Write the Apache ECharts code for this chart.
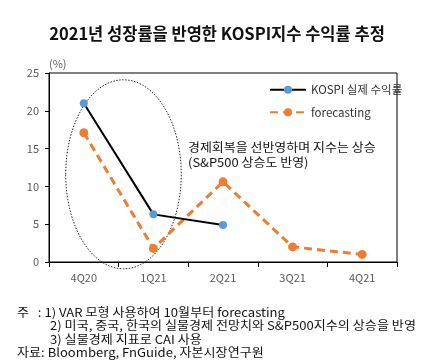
<!DOCTYPE html>
<html><head><meta charset="utf-8">
<script src="https://cdn.jsdelivr.net/npm/echarts@6/dist/echarts.min.js"></script>
<style>html,body{margin:0;padding:0;background:#fff}#c{width:434px;height:360px}</style>
</head><body><div id="c"></div>
<script>
const categories = ['4Q20','1Q21','2Q21','3Q21','4Q21'];
const kospiActual = [21.0, 6.3, 4.9, null, null];
const forecasting = [17.1, 1.8, 10.6, 2.0, 1.0];
const yTicks = {min:0, max:25, interval:5};
const titleText = '2021년 성장률을 반영한 KOSPI지수 수익률 추정';
const notes = [
  '주   : 1) VAR 모형 사용하여 10월부터 forecasting',
  '2) 미국, 중국, 한국의 실물경제 전망치와 S&P500지수의 상승을 반영',
  '3) 실물경제 지표로 CAI 사용',
  '자료: Bloomberg, FnGuide, 자본시장연구원'
];
const F = '"Noto Sans CJK KR", "Noto Sans", sans-serif';
const chart = echarts.init(document.getElementById('c'));
chart.setOption({
  animation:false,
  textStyle:{fontFamily:F},
  title:{text:titleText,left:'center',top:20,textStyle:{fontFamily:F,fontSize:16.5,fontWeight:'bold',color:'#111'}},
  grid:{left:49,right:37,top:73,bottom:98,show:true,borderColor:'#000',borderWidth:1},
  legend:{orient:'vertical',left:264,top:79,itemWidth:36,itemHeight:10,itemGap:11,
    textStyle:{fontFamily:F,fontSize:11.5,color:'#333'},
    data:['KOSPI 실제 수익률','forecasting']},
  xAxis:{type:'category',data:categories,boundaryGap:true,
    axisLine:{lineStyle:{color:'#000',width:1}},
    axisTick:{show:true,length:5,lineStyle:{color:'#000'}},
    axisLabel:{color:'#595959',fontSize:11,margin:10,fontFamily:F}},
  yAxis:{type:'value',min:yTicks.min,max:yTicks.max,interval:yTicks.interval,
    splitLine:{show:false},
    axisLine:{show:true,lineStyle:{color:'#000',width:1}},
    axisTick:{show:true,length:4,lineStyle:{color:'#000'}},
    axisLabel:{color:'#595959',fontSize:11,margin:10,fontFamily:F}},
  series:[
    {name:'KOSPI 실제 수익률',type:'line',data:kospiActual,symbol:'circle',symbolSize:8,
     lineStyle:{color:'#000',width:2},itemStyle:{color:'#5B9BD5'},connectNulls:false,z:3},
    {name:'forecasting',type:'line',data:forecasting,symbol:'circle',symbolSize:9,
     lineStyle:{color:'#ED7D31',width:3,type:[8,5]},itemStyle:{color:'#ED7D31'},z:2}
  ]
});
const p0 = chart.convertToPixel({gridIndex:0},[0,0]);
const p1 = chart.convertToPixel({gridIndex:0},[1,0]);
const eTop = chart.convertToPixel({gridIndex:0},[0,24.1])[1];
const eBot = chart.convertToPixel({gridIndex:0},[0,-0.9])[1];
const band = p1[0]-p0[0];
const cx = (p0[0]+p1[0])/2 + band*0.07;
function txt(s, x, y, size, sx){
  return {type:'text',x:x,y:y,scaleX:sx,
    style:{text:s,x:0,y:0,fill:'#111',font:size+'px '+F,verticalAlign:'middle',align:'left'}};
}
const g = [
  {type:'ellipse',shape:{cx:cx,cy:(eTop+eBot)/2,rx:band*0.83,ry:(eBot-eTop)/2},
   style:{fill:'none',stroke:'#222',lineWidth:1,lineDash:[1.5,1.5]},z:1},
  {type:'text',left:49,top:58,style:{text:'(%)',fill:'#595959',font:'11px '+F}},
  txt('경제회복을 선반영하며 지수는 상승',188,147,12,1.08),
  txt('(S&P500 상승도 반영)',188,162,12,1.08),
  txt(notes[0],17,312,12,1.09),
  txt(notes[1],50,325.5,12,1.09),
  txt(notes[2],50,339,12,1.09),
  txt(notes[3],17,352,12,1.09)
];
chart.setOption({graphic:g});
</script></body></html>
